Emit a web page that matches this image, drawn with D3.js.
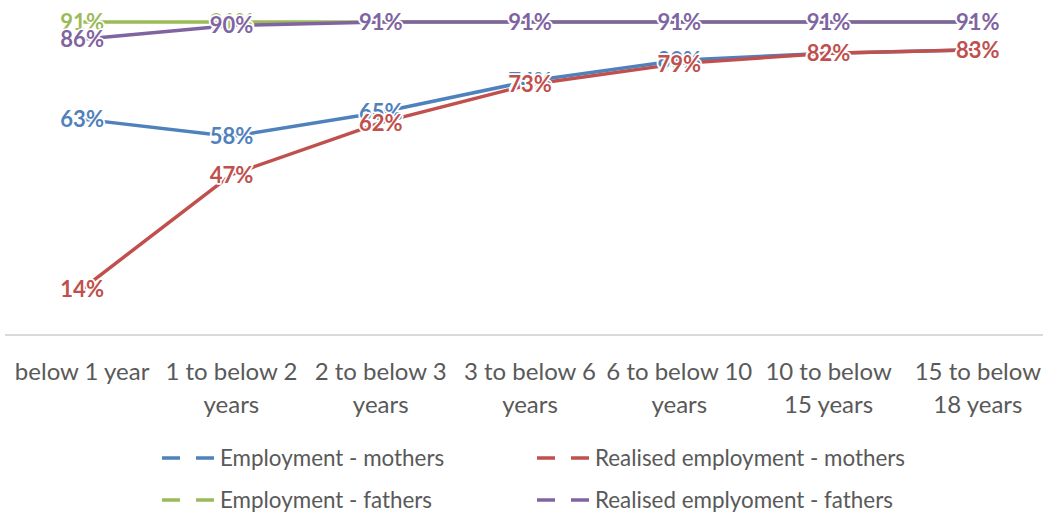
<!DOCTYPE html>
<html><head><meta charset="utf-8">
<script src="https://cdn.jsdelivr.net/npm/d3@7/dist/d3.min.js"></script>
<style>
html,body{margin:0;padding:0;background:#fff;}
svg{display:block;}
</style></head>
<body>
<svg id="chart" width="1043" height="512"></svg>
<script>
const categories = ["below 1 year","1 to below 2 years","2 to below 3 years","3 to below 6 years","6 to below 10 years","10 to below 15 years","15 to below 18 years"];
const tickLines = [["below 1 year"],["1 to below 2","years"],["2 to below 3","years"],["3 to below 6","years"],["6 to below 10","years"],["10 to below","15 years"],["15 to below","18 years"]];
const employmentMothers = [63,58,65,74,80,82,83];
const realisedMothers = [14,47,62,73,79,82,83];
const employmentFathers = [91,91,91,91,91,91,91];
const realisedFathers = [86,90,91,91,91,91,91];
const seriesNames = ["Employment - mothers","Realised employment - mothers","Employment - fathers","Realised emplyoment - fathers"];
const seriesColors = ["#4F81BD","#C0504D","#9BBB59","#8064A2"];
const seriesValues = [employmentMothers, realisedMothers, employmentFathers, realisedFathers];

const svg = d3.select("#chart");
const FONT = "Lato, Carlito, Calibri, 'Open Sans', sans-serif";

const x = d3.scaleBand().domain(categories).range([7.5, 1052.5]).padding(0);
const cx = c => x(c) + x.bandwidth()/2;
const y = d3.scaleLinear().domain([0,100]).range([337.6, -9.2]);

// axis line
svg.append("line").attr("x1",5).attr("x2",1043).attr("y1",335).attr("y2",335)
  .attr("stroke","#d9d9d9").attr("stroke-width",2);

// category labels
const tick = svg.append("g").selectAll("text").data(categories).join("text")
  .attr("x", d => cx(d)).attr("y", 380)
  .attr("text-anchor","middle").attr("fill","#595959")
  .style("font-family",FONT).style("font-size","24px");
tick.each(function(d,i){
  const t = d3.select(this);
  tickLines[i].forEach((ln,j)=>{
    t.append("tspan").attr("x", cx(d)).attr("dy", j===0?0:33).text(ln);
  });
});

// lines
const line = d3.line().x((d,i)=>cx(categories[i])).y(d=>y(d));
seriesValues.forEach((vals,s)=>{
  svg.append("path").datum(vals).attr("d",line)
    .attr("fill","none").attr("stroke",seriesColors[s]).attr("stroke-width",3.5)
    .attr("stroke-linejoin","round");
});

// data labels
seriesValues.forEach((vals,s)=>{
  svg.append("g").selectAll("text").data(vals).join("text")
    .attr("x",(d,i)=>cx(categories[i])).attr("y",d=>y(d))
    .attr("dy","0.36em").attr("text-anchor","middle")
    .attr("fill",seriesColors[s])
    .attr("stroke","#fff").attr("stroke-width",3.5).attr("stroke-linejoin","round")
    .style("paint-order","stroke")
    .style("font-family",FONT).style("font-size","22px").style("font-weight","bold")
    .text(d=>d+"%");
});

// legend
const legendPos = [[162,458],[537,458],[162,500],[537,500]];
seriesNames.forEach((name,s)=>{
  const [lx,ly] = legendPos[s];
  svg.append("line").attr("x1",lx).attr("x2",lx+53).attr("y1",ly).attr("y2",ly)
    .attr("stroke",seriesColors[s]).attr("stroke-width",3.5).attr("stroke-dasharray","18,16");
  svg.append("text").attr("x",lx+58).attr("y",ly).attr("dy","0.35em")
    .attr("fill","#595959").style("font-family",FONT).style("font-size","22.4px")
    .text(name);
});
</script>
</body></html>
